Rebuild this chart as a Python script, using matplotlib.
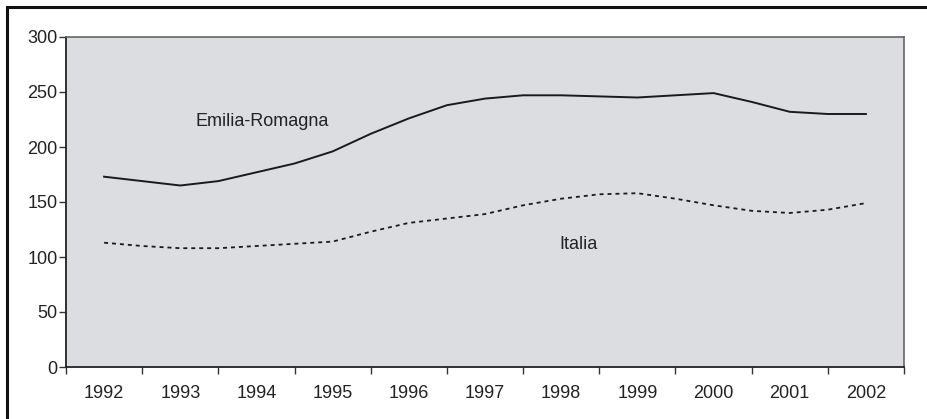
import matplotlib
matplotlib.use("Agg")
import matplotlib.pyplot as plt
from matplotlib.patches import Rectangle
import numpy as np

plt.rcParams['font.family'] = ['Liberation Sans', 'DejaVu Sans']

years = ['1992', '1993', '1994', '1995', '1996', '1997', '1998', '1999', '2000', '2001', '2002']
# half-year sampling positions (in years since 1992)
t_points = [0, 0.5, 1, 1.5, 2, 2.5, 3, 3.5, 4, 4.5, 5, 5.5, 6, 6.5, 7, 7.5, 8, 8.5, 9, 9.5, 10]
emilia = [173, 169, 165, 169, 177, 185, 196, 212, 226, 238, 244, 247, 247, 246, 245, 247, 249, 241, 232, 230, 230]
italia = [113, 110, 108, 108, 110, 112, 114, 123, 131, 135, 139, 147, 153, 157, 158, 153, 147, 142, 140, 143, 149]
yticks = [0, 50, 100, 150, 200, 250, 300]

W, H = 927, 419
fig = plt.figure(figsize=(W / 100, H / 100), dpi=100)
ax = fig.add_axes([66 / W, 1 - 367 / H, (904 - 66) / W, (367 - 37) / H])
ax.set_facecolor('#dcdde0')

ax.plot(t_points, emilia, color='#1a1a1a', lw=1.4, solid_joinstyle='round')
ax.plot(t_points, italia, color='#1a1a1a', lw=1.3, dashes=(2.2, 2.2))

ax.set_xlim(-0.5, 10.5)
ax.set_ylim(0, 300)
ax.set_yticks(yticks)
ax.set_yticklabels([str(v) for v in yticks])
ax.set_xticks(range(len(years)))
ax.set_xticklabels(years)
ax.set_xticks(np.arange(-0.5, 10.6, 1.0), minor=True)
ax.tick_params(axis='x', which='major', length=0, pad=13)
ax.tick_params(axis='x', which='minor', length=5, width=1, color='#333333', direction='out')
ax.tick_params(axis='y', length=5, width=1, color='#333333', direction='out', pad=1)
ax.tick_params(labelsize=13, labelcolor='#222222')

for s in ['left', 'bottom']:
    ax.spines[s].set_color('#222222')
    ax.spines[s].set_linewidth(1.3)
for s in ['top', 'right']:
    ax.spines[s].set_color('#666666')
    ax.spines[s].set_linewidth(1.2)

ax.text(1.2, 223, 'Emilia-Romagna', fontsize=13, color='#222222', va='center', ha='left')
ax.text(5.98, 111, 'Italia', fontsize=13, color='#222222', va='center', ha='left')

# outer frame (extends beyond right/bottom edges)
fig.patches.append(Rectangle((7 / W, -0.1), 1.2, 1 - 7 / H + 0.1, transform=fig.transFigure,
                             fill=False, edgecolor='#111111', lw=2.2))

fig.savefig('out.png', dpi=100)
